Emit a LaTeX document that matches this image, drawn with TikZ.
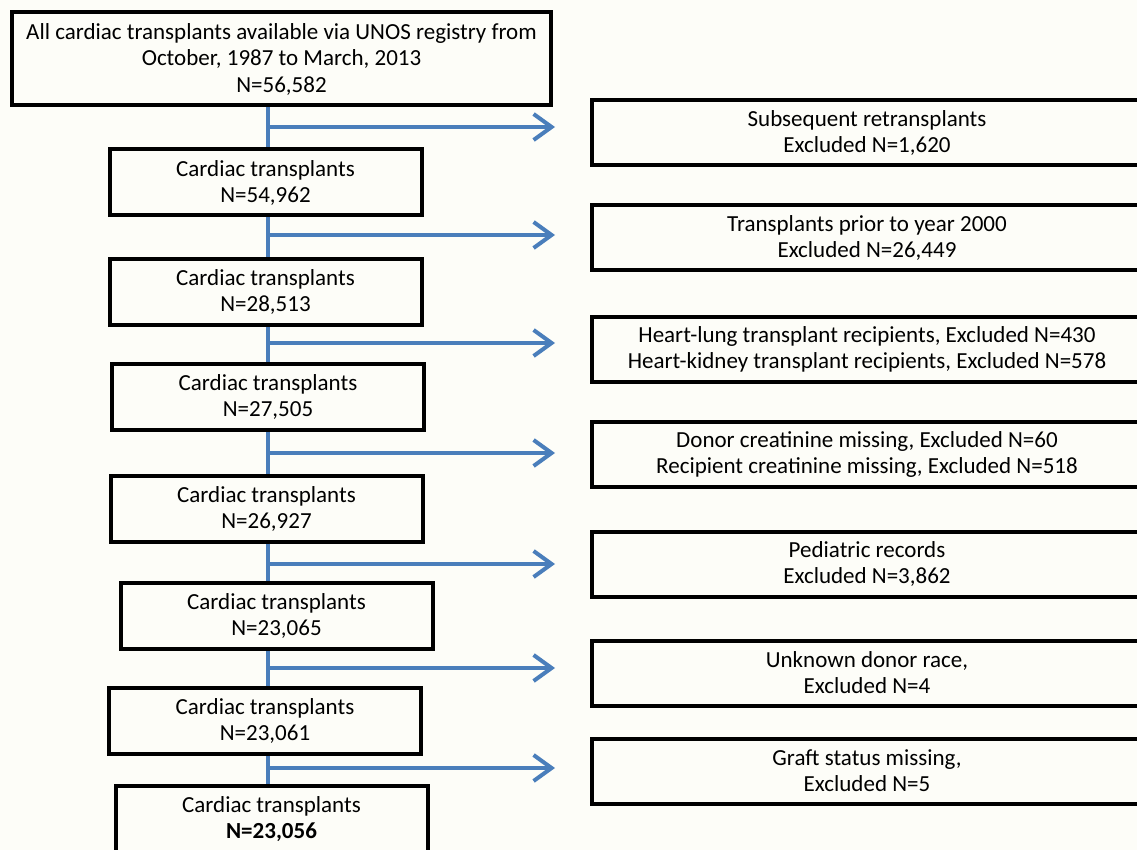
\documentclass[tikz,border=0pt]{standalone}
\usepackage{fontspec}
\setmainfont{Carlito}
\usetikzlibrary{arrows.meta}
\definecolor{bg}{RGB}{253,253,248}
\definecolor{flowblue}{RGB}{74,126,187}
\begin{document}
\begin{tikzpicture}[x=1pt,y=-1pt,
  box/.style={draw=black, line width=4pt, fill=bg, align=center, inner sep=0pt,
    font=\fontsize{23}{26}\selectfont},
  lbox/.style={box, minimum width=312, minimum height=66},
  rbox/.style={box, minimum width=550, minimum height=65},
  flow/.style={draw=flowblue, line width=4pt},
  arr/.style={flow, -{Straight Barb[length=18pt,width=26pt]}, shorten >=35pt}
]
\fill[bg] (0,0) rectangle (1137,850);
\useasboundingbox (0,0) rectangle (1137,850);
\clip (0,0) rectangle (1137,850);

\coordinate (sx) at (268,0);

% left column
\node[box, minimum width=539, minimum height=93, font=\fontsize{23}{26.5}\selectfont] (t0) at (281.5,59)
  {All cardiac transplants available via UNOS registry from\\October, 1987 to March, 2013\\N=56,582};
\node[lbox] (c1) at (265.5,182.5) {Cardiac transplants\\N=54,962};
\node[lbox] (c2) at (265.5,292) {Cardiac transplants\\N=28,513};
\node[lbox] (c3) at (268,397) {Cardiac transplants\\N=27,505};
\node[lbox] (c4) at (266.5,508.5) {Cardiac transplants\\N=26,927};
\node[lbox] (c5) at (276.5,616) {Cardiac transplants\\N=23,065};
\node[lbox] (c6) at (265,721) {Cardiac transplants\\N=23,061};
\node[lbox] (c7) at (271.5,819) {Cardiac transplants\\\textbf{N=23,056}};

% right column
\node[rbox] (r1) at (867,132.5) {Subsequent retransplants\\Excluded N=1,620};
\node[rbox] (r2) at (867,237.5) {Transplants prior to year 2000\\Excluded N=26,449};
\node[rbox] (r3) at (867,349) {Heart-lung transplant recipients, Excluded N=430\\Heart-kidney transplant recipients, Excluded N=578};
\node[rbox] (r4) at (867,454.5) {Donor creatinine missing, Excluded N=60\\Recipient creatinine missing, Excluded N=518};
\node[rbox] (r5) at (867,564) {Pediatric records\\Excluded N=3,862};
\node[rbox] (r6) at (867,673) {Unknown donor race,\\Excluded N=4};
\node[rbox] (r7) at (867,771) {Graft status missing,\\Excluded N=5};

% spine
\draw[flow] (t0.south -| sx) -- (c1.north -| sx);
\draw[flow] (c1.south -| sx) -- (c2.north -| sx);
\draw[flow] (c2.south -| sx) -- (c3.north -| sx);
\draw[flow] (c3.south -| sx) -- (c4.north -| sx);
\draw[flow] (c4.south -| sx) -- (c5.north -| sx);
\draw[flow] (c5.south -| sx) -- (c6.north -| sx);
\draw[flow] (c6.south -| sx) -- (c7.north -| sx);

% branch arrows
\coordinate (a1) at (268,127);
\coordinate (a2) at (268,235);
\coordinate (a3) at (268,343);
\coordinate (a4) at (268,453);
\coordinate (a5) at (268,564);
\coordinate (a6) at (268,668);
\coordinate (a7) at (268,768);
\draw[arr] (a1) -- (a1 -| r1.west);
\draw[arr] (a2) -- (a2 -| r2.west);
\draw[arr] (a3) -- (a3 -| r3.west);
\draw[arr] (a4) -- (a4 -| r4.west);
\draw[arr] (a5) -- (a5 -| r5.west);
\draw[arr] (a6) -- (a6 -| r6.west);
\draw[arr] (a7) -- (a7 -| r7.west);
\end{tikzpicture}
\end{document}
